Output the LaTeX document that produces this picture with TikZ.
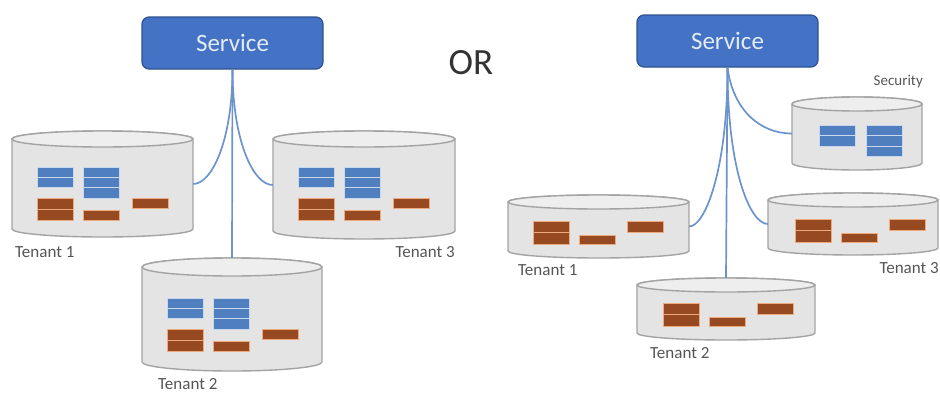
\documentclass[tikz,border=0pt]{standalone}
\usepackage{fontspec}
\setmainfont{Carlito}
\usetikzlibrary{fit}
\definecolor{svcfill}{HTML}{4472C4}
\definecolor{svcdraw}{HTML}{2F528F}
\definecolor{svctext}{HTML}{E4ECF7}
\definecolor{cylfillc}{HTML}{E4E4E4}
\definecolor{cyltopc}{HTML}{EEEEEE}
\definecolor{cyldrawc}{HTML}{A3A3A3}
\definecolor{bluebar}{HTML}{4F7FBF}
\definecolor{bluerim}{HTML}{C9D8EC}
\definecolor{orgbar}{HTML}{974A22}
\definecolor{orgrim}{HTML}{EDAA7C}
\definecolor{linkc}{HTML}{6C93CC}
\definecolor{lblc}{HTML}{555555}
\tikzset{
  svc/.style={draw=svcdraw, line width=1.2pt, fill=svcfill, rounded corners=7pt,
    minimum width=181pt, minimum height=52pt, text=svctext,
    font=\fontsize{25}{28}\selectfont},
  cylbody/.style={draw=cyldrawc, line width=1.4pt, fill=cylfillc},
  cyltop/.style={draw=cyldrawc, line width=1.4pt, fill=cyltopc},
  bluerow/.style={fill=bluebar, draw=bluerim, line width=0.8pt},
  orgrow/.style={fill=orgbar, draw=orgrim, line width=0.8pt},
  link/.style={draw=linkc, line width=1.7pt},
  lbl/.style={text=lblc, inner sep=0pt, font=\fontsize{17}{20}\selectfont},
}
% cylinder: name, left, top, right, bottom, ry
\newcommand\mycyl[6]{%
  \node[fit={(#2,#3) (#4,#5)}, inner sep=0pt] (#1) {};
  \pgfmathsetmacro\myrx{(#4-#2)/2}%
  \pgfmathsetmacro\mycx{(#2+#4)/2}%
  \draw[cylbody] (#2,{#3+#6}) -- (#2,{#5-#6})
     arc[start angle=180, end angle=360, x radius=\myrx pt, y radius=#6 pt]
     -- (#4,{#3+#6})
     arc[start angle=0, end angle=180, x radius=\myrx pt, y radius=#6 pt] -- cycle;
  \draw[cyltop] (\mycx,{#3+#6}) ellipse[x radius=\myrx pt, y radius=#6 pt];
}
% stack of bars: base x, base y, dx, dy, rows, row height, style
\newcommand\barstack[7]{%
  \pgfmathsetmacro\bsx{#1+#3}%
  \pgfmathsetmacro\bsy{#2+#4}%
  \foreach \k in {1,...,#5} {
    \pgfmathsetmacro\bsyk{\bsy+(\k-1)*#6}
    \path[#7] (\bsx,\bsyk) rectangle ++(36,#6);
  }
}
% full tenant content (blue + orange), origin x,y
\newcommand\fullcontent[2]{%
  \barstack{#1}{#2}{0}{0}{2}{10.3}{bluerow}
  \barstack{#1}{#2}{46}{0}{3}{10.3}{bluerow}
  \barstack{#1}{#2}{0}{31}{2}{11}{orgrow}
  \barstack{#1}{#2}{46}{43}{1}{10}{orgrow}
  \barstack{#1}{#2}{95}{31}{1}{10}{orgrow}
}
% orange-only content
\newcommand\orgcontent[2]{%
  \barstack{#1}{#2}{0}{0}{2}{11.5}{orgrow}
  \barstack{#1}{#2}{46}{14}{1}{9.5}{orgrow}
  \barstack{#1}{#2}{94}{0}{1}{11.5}{orgrow}
}
\begin{document}
\begin{tikzpicture}[x=1pt, y=-1pt]
\useasboundingbox (0,0) rectangle (940,394);

% ---------- left ----------
\node[svc] (svcL) at (232.5,43) {Service};
\mycyl{t1L}{12}{131}{193}{237}{8}
\mycyl{t3L}{273}{131}{455}{239}{8}
\mycyl{t2L}{142}{258}{322}{371}{9}
\fullcontent{37}{167}
\fullcontent{298}{167}
\fullcontent{167}{298}

\draw[link] (svcL.south) -- (t2L.north);
\draw[link] (svcL.south) .. controls (232.5,140) and (212,184) .. (t1L.east);
\draw[link] (svcL.south) .. controls (232.5,140) and (253,185) .. (t3L.west);

\node[lbl, anchor=west] (l1L) at (15,252) {Tenant 1};
\node[lbl, anchor=east] (l3L) at (455,252) {Tenant 3};
\node[lbl, anchor=west] (l2L) at (158,384) {Tenant 2};

\node[text=black!80, font=\fontsize{37}{40}\selectfont] (or) at (471,63) {OR};

% ---------- right ----------
\node[svc] (svcR) at (727.5,41) {Service};
\mycyl{sec}{792}{97}{922}{170}{7}
\mycyl{t1R}{508}{195}{689}{258}{7}
\mycyl{t3R}{768}{193}{938}{255}{7}
\mycyl{t2R}{637}{278}{815}{340}{7}

\barstack{819}{125}{0}{0}{2}{10.5}{bluerow}
\barstack{819}{125}{47}{0}{3}{10.5}{bluerow}
\orgcontent{533}{221}
\orgcontent{663}{303}
\orgcontent{795}{219}

\draw[link] (svcR.south) -- (t2R.north);
\draw[link] (svcR.south) .. controls (733,110) and (760,133.5) .. (sec.west);
\draw[link] (svcR.south) .. controls (727.5,170) and (705,226.5) .. (t1R.east);
\draw[link] (svcR.south) .. controls (727.5,170) and (750,224) .. (t3R.west);

\node[lbl, anchor=east, font=\fontsize{15}{18}\selectfont] (lsec) at (923,82) {Security};
\node[lbl, anchor=west] (l1R) at (518,270) {Tenant 1};
\node[lbl, anchor=west] (l2R) at (650,353) {Tenant 2};
\node[lbl, anchor=east] (l3R) at (939,268) {Tenant 3};
\end{tikzpicture}
\end{document}
